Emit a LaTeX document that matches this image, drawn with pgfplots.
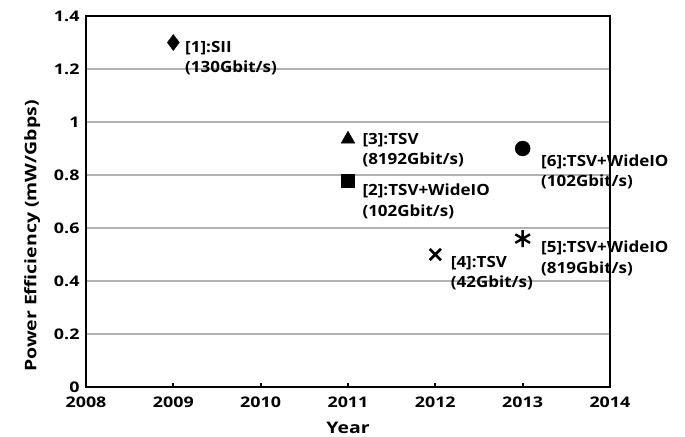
\documentclass[border=0pt]{standalone}
\usepackage{pgfplots}
\pgfplotsset{compat=1.18}
\usepackage{fontspec}
\setmainfont{Open Sans}
\newfontfamily\tickfont[FakeStretch=1.22, BoldFeatures={FakeStretch=1.22}]{Open Sans}
\newfontfamily\annfont[FakeStretch=1.1, BoldFeatures={FakeStretch=1.1}]{Open Sans}
\begin{document}
\begin{tikzpicture}
\begin{axis}[
  scale only axis, width=524bp, height=371bp,
  xmin=2008, xmax=2014, ymin=0, ymax=1.4,
  xtick={2008,2009,...,2014}, ytick={0,0.2,0.4,0.6,0.8,1,1.2,1.4},
  ymajorgrids, grid style={black!30, line width=1.8bp},
  axis line style={line width=2.8bp},
  tick align=inside, xtick pos=bottom, ytick pos=left,
  major tick length=4bp,
  xtick style={black, line width=1.8bp},
  ytick style={draw=none},
  /pgf/number format/assume math mode=true,
  x tick label style={/pgf/number format/1000 sep=, font=\fontsize{14.7}{17}\tickfont\bfseries, yshift=-6bp},
  y tick label style={font=\fontsize{14.7}{17}\tickfont\bfseries, xshift=-3bp},
  xlabel={Year}, ylabel={Power Efficiency (mW/Gbps)},
  label style={font=\fontsize{16}{18}\tickfont\bfseries},
  xlabel style={at={(ticklabel cs:0.5,8bp)}},
  ylabel style={at={(ticklabel cs:0.407,7bp)}},
  clip=false,
]
\addplot[only marks, mark=diamond*, mark size=8bp, black] coordinates {(2009,1.3)};
\addplot[only marks, mark=triangle*, mark size=8bp, black] coordinates {(2011,0.935)};
\addplot[only marks, mark=square*, mark size=6.5bp, black] coordinates {(2011,0.78)};
\addplot[only marks, mark=x, mark size=8bp, line width=2.6bp, black] coordinates {(2012,0.5)};
\addplot[only marks, mark=asterisk, mark size=8.5bp, line width=2.4bp, black] coordinates {(2013,0.56)};
\addplot[only marks, mark=*, mark size=7.5bp, black] coordinates {(2013,0.9)};
\coordinate (O) at (rel axis cs:0,0);
\begin{scope}[every node/.style={anchor=north west, inner sep=0pt, align=left, font=\fontsize{15.5}{20.5}\annfont\bfseries}]
\node at (axis cs:2009.134,1.306) {[1]:SII\\(130Gbit/s)};
\node at (axis cs:2011.164,0.959) {[3]:TSV\\(8192Gbit/s)};
\node at (axis cs:2011.164,0.766) {[2]:TSV+WideIO\\(102Gbit/s)};
\node at (axis cs:2013.21,0.877) {[6]:TSV+WideIO\\(102Gbit/s)};
\node at (axis cs:2013.21,0.551) {[5]:TSV+WideIO\\(819Gbit/s)};
\node at (axis cs:2012.176,0.494) {[4]:TSV\\(42Gbit/s)};
\end{scope}
\end{axis}
\path (O) ++(-86bp,-47bp) ++(685bp,434bp);
\path (O) ++(-86bp,-47bp);
\end{tikzpicture}
\end{document}
